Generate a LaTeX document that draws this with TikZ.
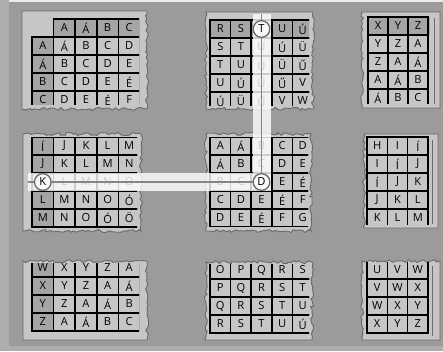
\documentclass[tikz,border=0pt]{standalone}
\usepackage{fontspec}
\setmainfont{Open Sans}
\usetikzlibrary{positioning,calc,decorations.pathmorphing}
\definecolor{board}{HTML}{9B9B9B}
\definecolor{frame}{HTML}{ADADAD}
\definecolor{paper}{HTML}{C6C6C6}
\definecolor{cellB}{HTML}{A5A5A5}
\definecolor{edge}{HTML}{6A6A6A}
\definecolor{bandgray}{HTML}{858585}
\pgfdeclarelayer{front}
\pgfsetlayers{main,front}

\begin{document}
\begin{tikzpicture}[x=0.3mm,y=-0.3mm,
				every node/.style={font=\fontsize{9.5}{9.5}\selectfont},
				cell/.style={draw=black,line width=1.3pt,minimum height=5.4mm,inner sep=0pt},
				paper/.style={fill=paper,draw=edge,line width=0.8pt,
						decoration={random steps,segment length=2.5pt,amplitude=1.3pt}},
				pick/.style={circle,fill=white!90!paper,draw=edge,line width=1.1pt,
						minimum size=5mm,inner sep=0pt},
				band/.style={line width=5.4mm,white,opacity=0.8,
						shorten <=-4.5mm,shorten >=-4.5mm},
				bandline/.style={line width=1.1pt,bandgray,
						shorten <=-4.5mm,shorten >=-4.5mm}]

				\pgfmathsetseed{5}
				\useasboundingbox (0,0) rectangle (443,351);
				\fill[board] (0,0) rectangle (443,351);
				\fill[frame] (0,0) rectangle (9,351);
				\fill[white!80!board] (9,0) rectangle (443,2);
				\fill[frame] (9,346) rectangle (443,351);

				% top row
				\draw[paper] (22,11) -- (147,11) decorate{-- (147,109) -- (22,109)} -- cycle;
				\begin{scope}[cell/.append style={minimum width=6.48mm}]
					\clip (22,11) rectangle (139,104);
					\fill[cellB] (53.6,19) rectangle (160,37);
					\fill[cellB] (32,37) rectangle (53.6,120);
					\foreach \c [count=\k] in {A,Á,B,C}
						\node[cell] (tl-0-\k) at (42.8+21.6*\k,28) {\c};
					\foreach \row [count=\r] in {{A,Á,B,C,D},{Á,B,C,D,E},{B,C,D,E,É},{C,D,E,É,F}}
						\foreach \c [count=\k from 0] in \row
							\node[cell] (tl-\r-\k) at (42.8+21.6*\k,28+18*\r) {\c};
				\end{scope}

				\draw[paper] (313,12) -- (206,12) decorate{-- (206,109) -- (313,109) -- (313,12)};
				\begin{scope}[cell/.append style={minimum width=6.18mm}]
					\clip (208,12) rectangle (309,105);
					\fill[cellB] (210,20) rectangle (330,38);
					\foreach \row [count=\r from 0] in {{R,S,T,U,Ú},{S,T,U,Ú,Ü},{T,U,Ú,Ü,Ű},{U,Ú,Ü,Ű,V},{Ú,Ü,Ű,V,W}}
						\foreach \c [count=\k from 0] in \row
							\node[cell] (tm-\r-\k) at (220.3+20.6*\k,29+18*\r) {\c};
				\end{scope}

				\draw[paper] (362,108) -- (440,108) -- (440,12) -- (362,12) decorate{-- (362,108)};
				\draw[edge] (434,18) -- (434,104);
				\begin{scope}[cell/.append style={minimum width=6.0mm}]
					\clip (364,12) rectangle (430,103);
					\fill[cellB] (368,17) rectangle (430,35);
					\foreach \row [count=\r from 0] in {{X,Y,Z},{Y,Z,A},{Z,A,Á},{A,Á,B},{Á,B,C}}
						\foreach \c [count=\k from 0] in \row
							\node[cell] (tr-\r-\k) at (378+20*\k,26+18*\r) {\c};
				\end{scope}

				% middle row
				\draw[paper] (23,134) decorate{-- (141,134) -- (141,231) -- (23,231)} -- cycle;
				\begin{scope}[cell/.append style={minimum width=6.48mm}]
					\clip (24,137) rectangle (137,227);
					\fill[cellB] (32,137) rectangle (53.6,240);
					\foreach \row [count=\r from 0] in {{Í,J,K,L,M},{J,K,L,M,N},{K,L,M,N,O},{L,M,N,O,Ó},{M,N,O,Ó,Ö}}
						\foreach \c [count=\k from 0] in \row
							\node[cell] (ml-\r-\k) at (42.8+21.6*\k,146+18*\r) {\c};
				\end{scope}

				\draw[paper] (206,134) decorate{-- (311,134) -- (311,231) -- (206,231) -- (206,134)};
				\begin{scope}[cell/.append style={minimum width=6.18mm}]
					\clip (208,137) rectangle (308,226);
					\foreach \row [count=\r from 0] in {{A,Á,B,C,D},{Á,B,C,D,E},{B,C,D,E,É},{C,D,E,É,F},{D,E,É,F,G}}
						\foreach \c [count=\k from 0] in \row
							\node[cell] (mm-\r-\k) at (220.3+20.6*\k,146+18*\r) {\c};
				\end{scope}

				\draw[paper] (364,228) -- (438,228) -- (438,134) -- (364,134) decorate{-- (364,228)};
				\draw[edge] (432,140) -- (432,224);
				\begin{scope}[cell/.append style={minimum width=6.09mm}]
					\clip (366,136) rectangle (429,224);
					\foreach \row [count=\r from 0] in {{H,I,Í},{I,Í,J},{Í,J,K},{J,K,L},{K,L,M}}
						\foreach \c [count=\k from 0] in \row
							\node[cell] (mr-\r-\k) at (377.2+20.3*\k,146+18*\r) {\c};
				\end{scope}

				% bottom row
				\draw[paper] (23,340) -- (23,261) decorate{-- (147,261) -- (147,340)} -- cycle;
				\begin{scope}[cell/.append style={minimum width=6.48mm}]
					\clip (24,263) rectangle (139,340);
					\fill[cellB] (32,259) rectangle (53.6,331);
					\foreach \row [count=\r from 0] in {{W,X,Y,Z,A},{X,Y,Z,A,Á},{Y,Z,A,Á,B},{Z,A,Á,B,C}}
						\foreach \c [count=\k from 0] in \row
							\node[cell] (bl-\r-\k) at (42.8+21.6*\k,268+18*\r) {\c};
				\end{scope}

				\draw[paper] (206,340) -- (312,340) decorate{-- (312,262) -- (206,262) -- (206,340)};
				\begin{scope}[cell/.append style={minimum width=6.18mm}]
					\clip (207,264) rectangle (309,340);
					\foreach \row [count=\r from 0] in {{O,P,Q,R,S},{P,Q,R,S,T},{Q,R,S,T,U},{R,S,T,U,Ú}}
						\foreach \c [count=\k from 0] in \row
							\node[cell] (bm-\r-\k) at (220.3+20.6*\k,270+18*\r) {\c};
				\end{scope}

				\draw[paper] (362,340) -- (440,340) -- (440,261) decorate{-- (362,261) -- (362,340)};
				\draw[edge] (432,266) -- (432,336);
				\begin{scope}[cell/.append style={minimum width=6.09mm}]
					\clip (364,262) rectangle (429,340);
					\foreach \row [count=\r from 0] in {{U,V,W},{V,W,X},{W,X,Y},{X,Y,Z}}
						\foreach \c [count=\k from 0] in \row
							\node[cell] (br-\r-\k) at (377.2+20.3*\k,270+18*\r) {\c};
				\end{scope}

				% picked letters
				\begin{pgfonlayer}{front}
					\node[pick] (t) at (tm-0-2) {T};
					\node[pick] (k) at (ml-2-0) {K};
					\node[pick] (d) at (mm-2-2) {D};
				\end{pgfonlayer}
				\draw[band] (k.center) -- (d.center) -- (t.center);
				\draw[bandline] (k.center) -- (d.center) -- (t.center);
			\end{tikzpicture}
\end{document}
